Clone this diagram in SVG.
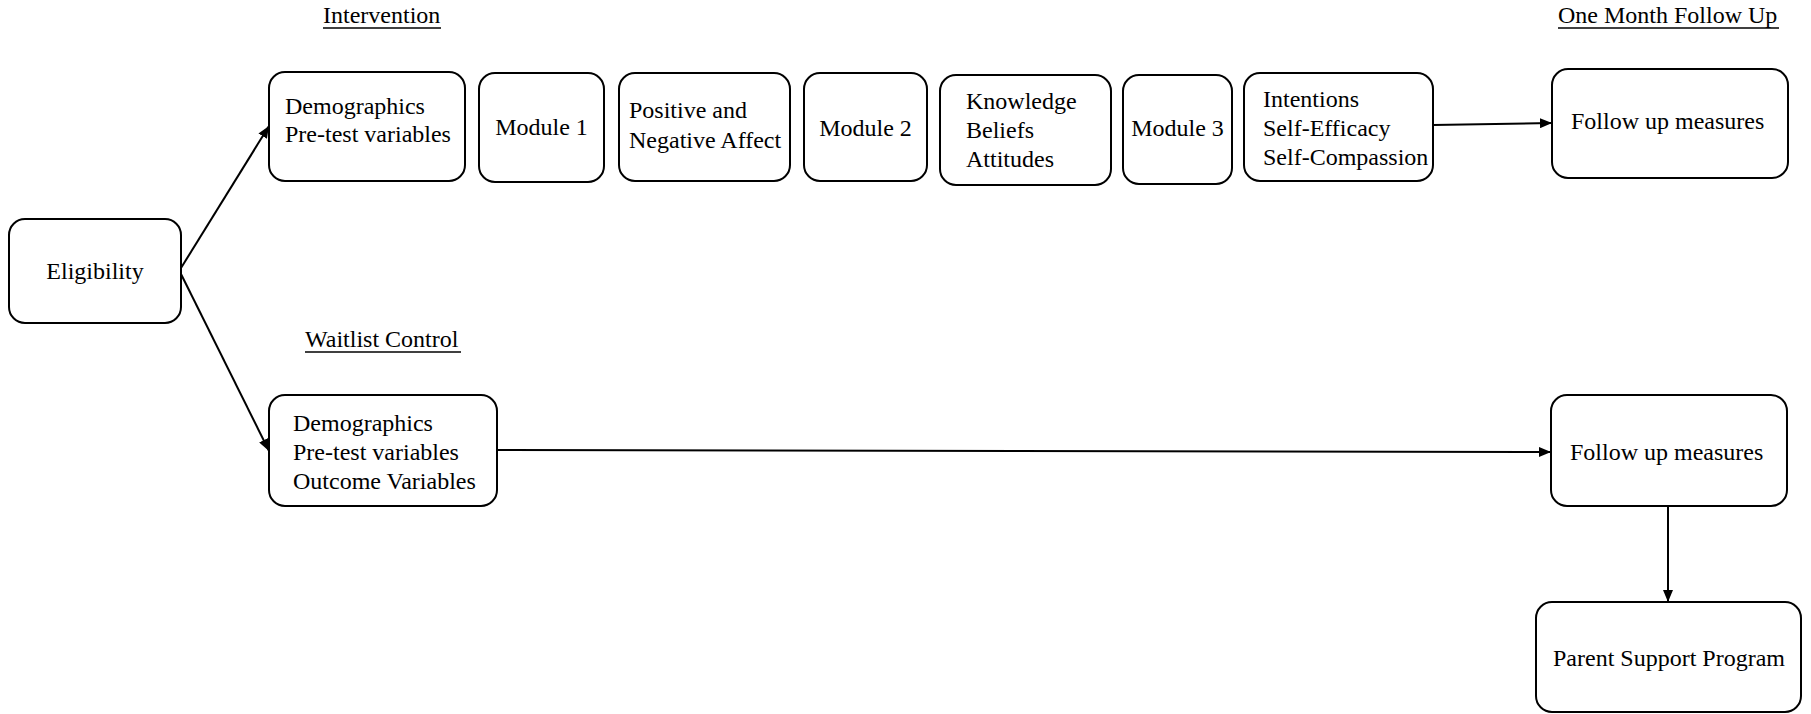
<svg xmlns="http://www.w3.org/2000/svg" width="1811" height="714" viewBox="0 0 1811 714">
<style>
  .box { fill: #ffffff; stroke: #000000; stroke-width: 2; }
  .t { font-size: 24px; fill: #000000; }
  .c { text-anchor: middle; }
  .ul { stroke: #000000; stroke-width: 1.5; }
  .edge { fill: none; stroke: #000000; stroke-width: 2; marker-end: url(#arrow); }
</style>
<defs>
  <marker id="arrow" viewBox="0 0 12 10" refX="12" refY="5" markerWidth="12" markerHeight="10" orient="auto" markerUnits="userSpaceOnUse">
    <path d="M0,0 L12,5 L0,10 z" fill="#000000"/>
  </marker>
</defs>
<rect width="1811" height="714" fill="#ffffff"/>

<g font-family="'Liberation Serif', 'Times New Roman', serif">
<g id="headings">
  <text class="t" x="323" y="23">Intervention</text>
  <line class="ul" x1="323" y1="28" x2="441" y2="28"/>
  <text class="t" x="1558" y="23">One Month Follow Up</text>
  <line class="ul" x1="1558" y1="28" x2="1779" y2="28"/>
  <text class="t" x="305" y="347">Waitlist Control</text>
  <line class="ul" x1="305" y1="352" x2="461" y2="352"/>
</g>

<g id="connectors">
  <line class="edge" x1="181" y1="268" x2="269" y2="126"/>
  <line class="edge" x1="181" y1="274" x2="269" y2="451"/>
  <line class="edge" x1="1433" y1="125" x2="1552" y2="123"/>
  <line class="edge" x1="497" y1="450" x2="1551" y2="452"/>
  <line class="edge" x1="1668" y1="506" x2="1668" y2="602"/>
</g>

<g id="eligibility">
  <rect class="box" x="9" y="219" width="172" height="104" rx="16"/>
  <text class="t c" x="95" y="279">Eligibility</text>
</g>

<g id="int-demographics">
  <rect class="box" x="269" y="72" width="196" height="109" rx="16"/>
  <text class="t" x="285" y="114">Demographics</text>
  <text class="t" x="285" y="142">Pre-test variables</text>
</g>

<g id="module1">
  <rect class="box" x="479" y="73" width="125" height="109" rx="16"/>
  <text class="t c" x="541.5" y="135">Module 1</text>
</g>

<g id="affect">
  <rect class="box" x="619" y="73" width="171" height="108" rx="16"/>
  <text class="t" x="629" y="118">Positive and</text>
  <text class="t" x="629" y="148">Negative Affect</text>
</g>

<g id="module2">
  <rect class="box" x="804" y="73" width="123" height="108" rx="16"/>
  <text class="t c" x="865.5" y="136">Module 2</text>
</g>

<g id="knowledge">
  <rect class="box" x="940" y="75" width="171" height="110" rx="16"/>
  <text class="t" x="966" y="109">Knowledge</text>
  <text class="t" x="966" y="138">Beliefs</text>
  <text class="t" x="966" y="167">Attitudes</text>
</g>

<g id="module3">
  <rect class="box" x="1123" y="75" width="109" height="109" rx="16"/>
  <text class="t c" x="1177.5" y="136">Module 3</text>
</g>

<g id="intentions">
  <rect class="box" x="1244" y="73" width="189" height="108" rx="16"/>
  <text class="t" x="1263" y="107">Intentions</text>
  <text class="t" x="1263" y="136">Self-Efficacy</text>
  <text class="t" x="1263" y="165">Self-Compassion</text>
</g>

<g id="followup-int">
  <rect class="box" x="1552" y="69" width="236" height="109" rx="16"/>
  <text class="t" x="1571" y="129">Follow up measures</text>
</g>

<g id="wl-demographics">
  <rect class="box" x="269" y="395" width="228" height="111" rx="16"/>
  <text class="t" x="293" y="431">Demographics</text>
  <text class="t" x="293" y="460">Pre-test variables</text>
  <text class="t" x="293" y="489">Outcome Variables</text>
</g>

<g id="followup-wl">
  <rect class="box" x="1551" y="395" width="236" height="111" rx="16"/>
  <text class="t" x="1570" y="460">Follow up measures</text>
</g>

<g id="parent-support">
  <rect class="box" x="1536" y="602" width="265" height="110" rx="16"/>
  <text class="t" x="1553" y="666">Parent Support Program</text>
</g>
</g>
</svg>
